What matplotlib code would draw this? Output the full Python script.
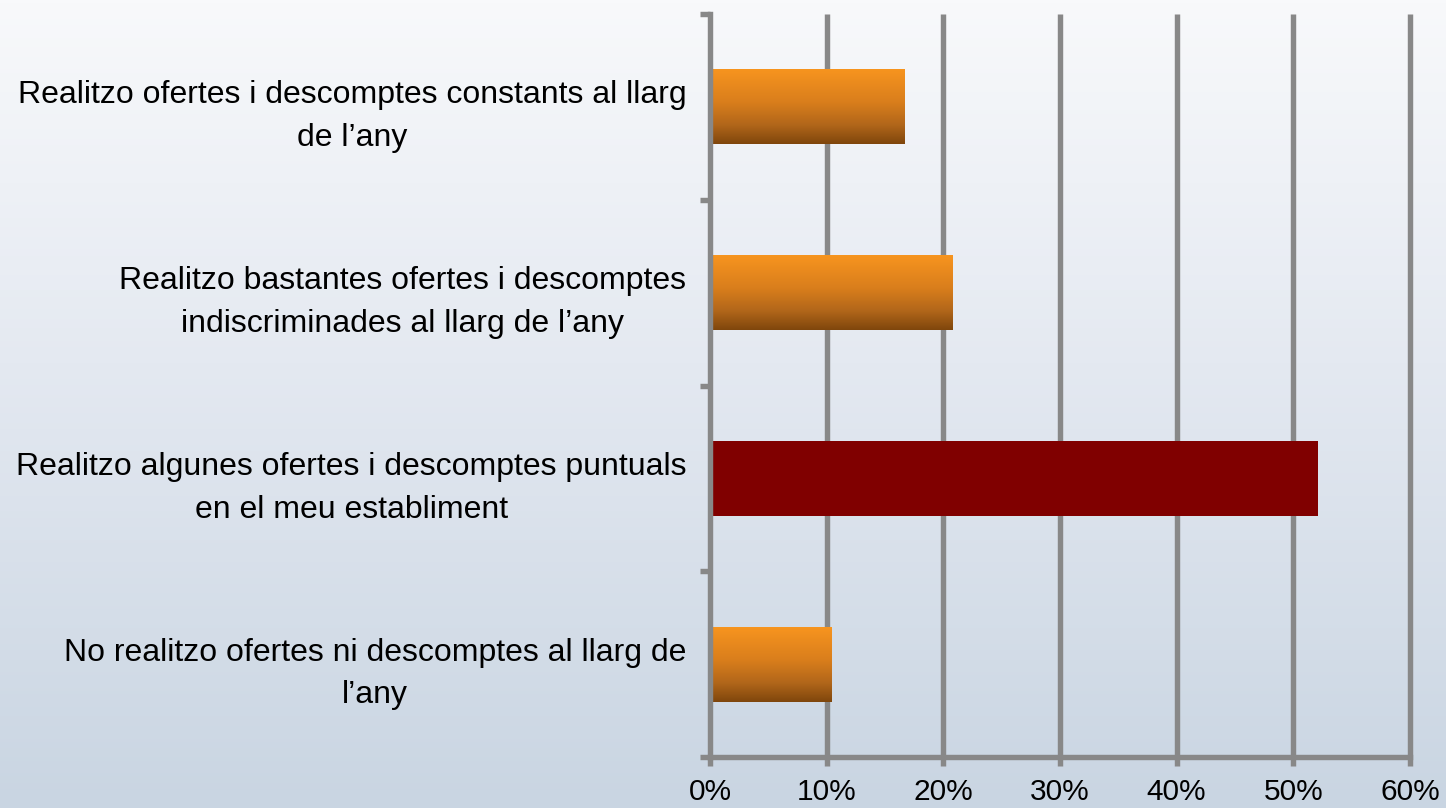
import numpy as np
import matplotlib
matplotlib.use("Agg")
import matplotlib.pyplot as plt
from matplotlib.colors import LinearSegmentedColormap

# Survey answers (top to bottom) and share of respondents (%)
categories = [
    "Realitzo ofertes i descomptes constants al llarg\nde l\u2019any",
    "Realitzo bastantes ofertes i descomptes\nindiscriminades al llarg de l\u2019any",
    "Realitzo algunes ofertes i descomptes puntuals\nen el meu establiment",
    "No realitzo ofertes ni descomptes al llarg de\nl\u2019any",
]
values = [16.7, 20.8, 52.1, 10.4]
highlight = [False, False, True, False]
x_ticks = [0, 10, 20, 30, 40, 50, 60]
x_tick_labels = ["0%", "10%", "20%", "30%", "40%", "50%", "60%"]

plt.rcParams["font.family"] = ["Liberation Sans", "DejaVu Sans"]

W, H, DPI = 1446, 808, 100
fig = plt.figure(figsize=(W / DPI, H / DPI), dpi=DPI)

# Soft vertical background gradient over the whole figure
bg = fig.add_axes([0, 0, 1, 1], zorder=-10)
bg_cmap = LinearSegmentedColormap.from_list(
    "bg", [(0.0, "#f8f9fb"), (0.45, "#e4e9f1"), (1.0, "#c9d5e2")])
bg.imshow(np.linspace(0, 1, 256)[:, None], aspect="auto", cmap=bg_cmap,
          extent=[0, 1, 0, 1], origin="upper")
bg.set_axis_off()

ax = fig.add_axes([710 / W, (H - 757) / H, 700 / W, (757 - 14) / H])
ax.patch.set_alpha(0)

grid_col = "#888888"
lw = 3.9
fs = 23
n = len(categories)
ypos = np.arange(n)[::-1]  # first category at the top

bars = ax.barh(ypos, values, height=0.404, color="#800000", zorder=3)

# Orange bars get a vertical orange-to-brown gradient
bar_cmap = LinearSegmentedColormap.from_list(
    "bar", [(0.0, "#f8951f"), (0.45, "#d97e1c"), (0.75, "#b1661a"), (1.0, "#7f460c")])
for rect, hl in zip(bars, highlight):
    if hl:
        continue
    x0, y0 = rect.get_x(), rect.get_y()
    w, h = rect.get_width(), rect.get_height()
    rect.set_facecolor("none")
    im = ax.imshow(np.linspace(0, 1, 256)[:, None], aspect="auto", cmap=bar_cmap,
                   extent=[x0, x0 + w, y0, y0 + h], origin="upper", zorder=3)
    im.set_clip_path(rect)

ax.set_xlim(0, 60)
ax.set_ylim(-0.5, n - 0.5)

# Vertical gridlines
for xv in x_ticks[1:]:
    ax.axvline(xv, color=grid_col, lw=lw, zorder=1, solid_capstyle="butt",
               clip_on=False)

for side in ("top", "right"):
    ax.spines[side].set_visible(False)
for side in ("left", "bottom"):
    ax.spines[side].set_color(grid_col)
    ax.spines[side].set_linewidth(lw)
    ax.spines[side].set_zorder(4)

ax.set_xticks(x_ticks)
ax.set_xticklabels(x_tick_labels)
ax.tick_params(axis="x", length=6.5, width=lw, color=grid_col, pad=8.5,
               labelsize=21.5, labelcolor="black")

# Category boundaries get ticks, centres get the labels
ax.set_yticks(np.arange(-0.5, n, 1.0))
ax.set_yticklabels([])
ax.tick_params(axis="y", which="major", length=7, width=lw, color=grid_col)
ax.set_yticks(ypos, minor=True)
ax.set_yticklabels(categories, minor=True, fontsize=fs, linespacing=1.55,
                   multialignment="center")
ax.tick_params(axis="y", which="minor", length=0, pad=17)

fig.savefig("out.png", dpi=DPI)
